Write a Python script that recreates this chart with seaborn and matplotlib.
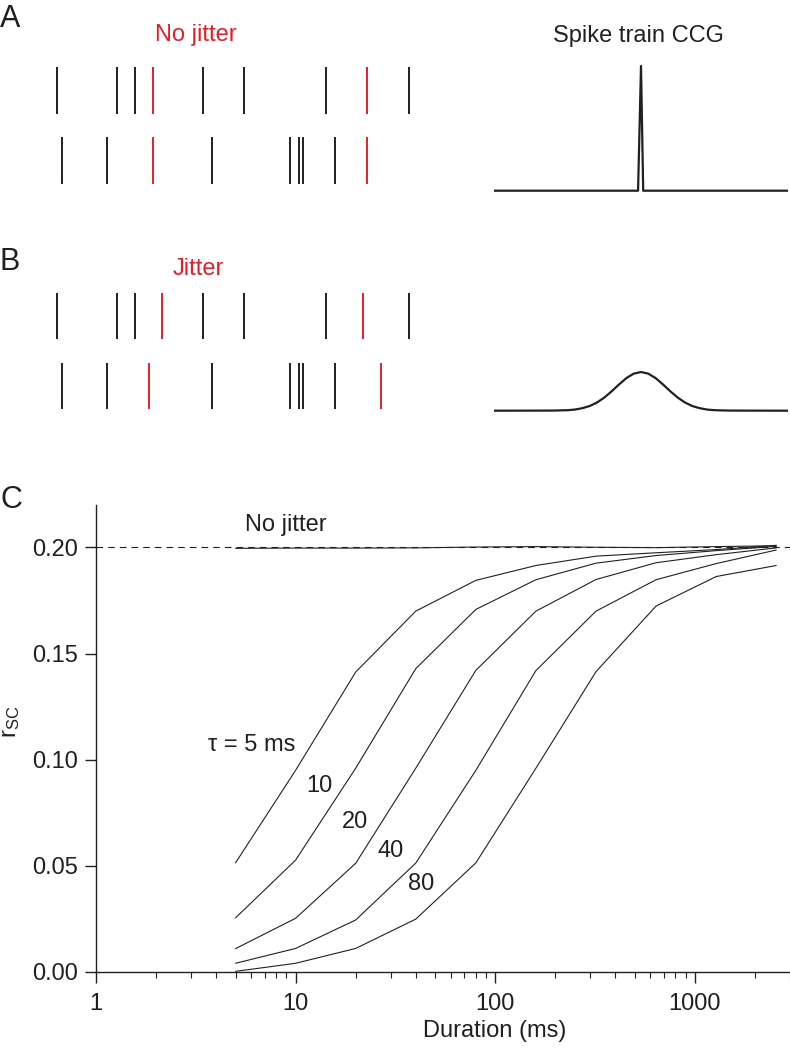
import numpy as np
import pandas as pd
import matplotlib
matplotlib.use('Agg')
import matplotlib.pyplot as plt
import seaborn as sns

sns.set_style('ticks')
plt.rcParams['font.family'] = ['Liberation Sans', 'DejaVu Sans']
plt.rcParams['mathtext.fontset'] = 'custom'
plt.rcParams['mathtext.rm'] = 'Liberation Sans'
plt.rcParams['mathtext.it'] = 'Liberation Sans:italic'

INK = '#231f20'
RED = '#e1202b'
W, H = 790, 1049

# spike times (ms) -- black spikes and the synchronous (red) ones
train1_black = [17, 77, 95, 163, 204, 286, 369]
train2_black = [22, 67, 172, 250, 259, 263, 295]
train1_sync_a = [113, 327]
train2_sync_a = [113, 327]
train1_sync_b = [122, 323]
train2_sync_b = [109, 341]

# cross-correlograms
ccg_lag_a = [-100, -2, 0, 1.5, 100]
ccg_a = [0, 0, 1.0, 0, 0]
ccg_lag_b = [-100, -60, -50, -45, -40, -35, -30, -25, -20, -15, -10, -5, 0,
             5, 10, 15, 20, 25, 30, 35, 40, 45, 50, 60, 100]
ccg_b = [0, 0.001, 0.004, 0.009, 0.020, 0.037, 0.065, 0.105, 0.155, 0.210, 0.261, 0.297, 0.310,
         0.297, 0.261, 0.210, 0.155, 0.105, 0.065, 0.037, 0.020, 0.009, 0.004, 0.001, 0]

# panel C: spike count correlation vs counting window
durations = [5, 10, 20, 40, 80, 160, 320, 640, 1280, 2560]
r_no_jitter = [0.1996, 0.1997, 0.1997, 0.1998, 0.2002, 0.2004, 0.2001, 0.1999, 0.2004, 0.2008]
r_tau5 = [0.0514, 0.0950, 0.1413, 0.1700, 0.1845, 0.1915, 0.1959, 0.1975, 0.1990, 0.2010]
r_tau10 = [0.0255, 0.0527, 0.0960, 0.1429, 0.1708, 0.1848, 0.1926, 0.1962, 0.1985, 0.2005]
r_tau20 = [0.0110, 0.0253, 0.0512, 0.0960, 0.1421, 0.1700, 0.1849, 0.1928, 0.1966, 0.1998]
r_tau40 = [0.0041, 0.0111, 0.0245, 0.0513, 0.0950, 0.1420, 0.1700, 0.1848, 0.1924, 0.1988]
r_tau80 = [0.0003, 0.0041, 0.0111, 0.0249, 0.0514, 0.0960, 0.1415, 0.1724, 0.1863, 0.1915]
tau_labels = ['\u03c4 = 5 ms', '10', '20', '40', '80']


def box(x0, y0, x1, y1):
    # pixel box (top-left origin) -> figure fraction rect
    return [x0 / W, 1 - y1 / H, (x1 - x0) / W, (y1 - y0) / H]


fig = plt.figure(figsize=(W / 100, H / 100), dpi=100)


def raster(rect, sync1, sync2):
    ax = fig.add_axes(rect)
    ax.eventplot([train1_black, train2_black], lineoffsets=[1, 0], linelengths=0.67,
                 linewidths=1.4, colors=INK)
    ax.eventplot([sync1, sync2], lineoffsets=[1, 0], linelengths=0.67,
                 linewidths=1.4, colors=RED)
    ax.set_xlim(0, 390)
    ax.set_ylim(-0.424, 1.433)
    ax.axis('off')
    return ax


def ccg(rect, lags, vals):
    ax = fig.add_axes(rect)
    sns.lineplot(x=lags, y=vals, ax=ax, color=INK, lw=1.6, estimator=None)
    ax.set_xlim(-100, 100)
    ax.set_ylim(-0.0345, 1.048)
    ax.axis('off')
    return ax


raster(box(40, 60, 430, 190), train1_sync_a, train2_sync_a)
raster(box(40, 285.7, 430, 415.7), train1_sync_b, train2_sync_b)
ccg(box(494, 60, 788, 195), ccg_lag_a, ccg_a)
ccg(box(494, 280, 788, 415), ccg_lag_b, ccg_b)

fs = 17
fig.text(0 / W, 1 - 27 / H, 'A', fontsize=22, color=INK, va='baseline')
fig.text(0 / W, 1 - 270 / H, 'B', fontsize=22, color=INK, va='baseline')
fig.text(0 / W, 1 - 508 / H, 'C', fontsize=22, color=INK, va='baseline')
fig.text(196 / W, 1 - 41 / H, 'No jitter', fontsize=fs, color=RED, ha='center', va='baseline')
fig.text(198 / W, 1 - 275 / H, 'Jitter', fontsize=fs, color=RED, ha='center', va='baseline')
fig.text(638 / W, 1 - 42 / H, 'Spike train CCG', fontsize=fs, color=INK, ha='center', va='baseline')

# panel C
curves = {'none': r_no_jitter, '5': r_tau5, '10': r_tau10, '20': r_tau20,
          '40': r_tau40, '80': r_tau80}
df = pd.concat([pd.DataFrame({'duration': durations, 'r': v, 'tau': k})
                for k, v in curves.items()], ignore_index=True)

ax = fig.add_axes(box(96, 505, 790, 972))
ax.axhline(0.2, color=INK, lw=0.8, ls=(0, (6, 4.5)), zorder=1)
sns.lineplot(data=df, x='duration', y='r', units='tau', estimator=None,
             color=INK, lw=0.8, ax=ax, zorder=2)
ax.set_xscale('log')
ax.set_xlim(1, 3000)
ax.set_ylim(0, 0.22)
ax.set_xticks([1, 10, 100, 1000])
ax.set_xticklabels(['1', '10', '100', '1000'])
ax.set_yticks([0, 0.05, 0.10, 0.15, 0.20])
ax.set_yticklabels(['0.00', '0.05', '0.10', '0.15', '0.20'])
sns.despine(ax=ax)
for s in ['left', 'bottom']:
    ax.spines[s].set_linewidth(1.0)
    ax.spines[s].set_color(INK)
ax.tick_params(which='major', direction='out', length=8, width=1.0, color=INK,
               labelsize=fs, labelcolor=INK, pad=5)
ax.tick_params(axis='x', which='minor', direction='out', length=4, width=0.8, color=INK)
ax.tick_params(axis='x', which='major', pad=7)
ax.set_xlabel('Duration (ms)', fontsize=fs, color=INK)
ax.set_ylabel(r'r$_{\mathrm{SC}}$', fontsize=fs, color=INK)
ax.xaxis.set_label_coords(0.575, -0.102)
ax.yaxis.set_label_coords(-0.106, 0.535)

ax.text(8.9, 0.2105, 'No jitter', fontsize=fs, color=INK, ha='center', va='center')
label_pos = [(6.0, 0.107), (13.1, 0.0875), (19.9, 0.0706), (29.8, 0.0569), (42.8, 0.0414)]
for (x, y), t in zip(label_pos, tau_labels):
    ax.text(x, y, t, fontsize=fs, color=INK, ha='center', va='center')

fig.savefig('out.png', dpi=100)
